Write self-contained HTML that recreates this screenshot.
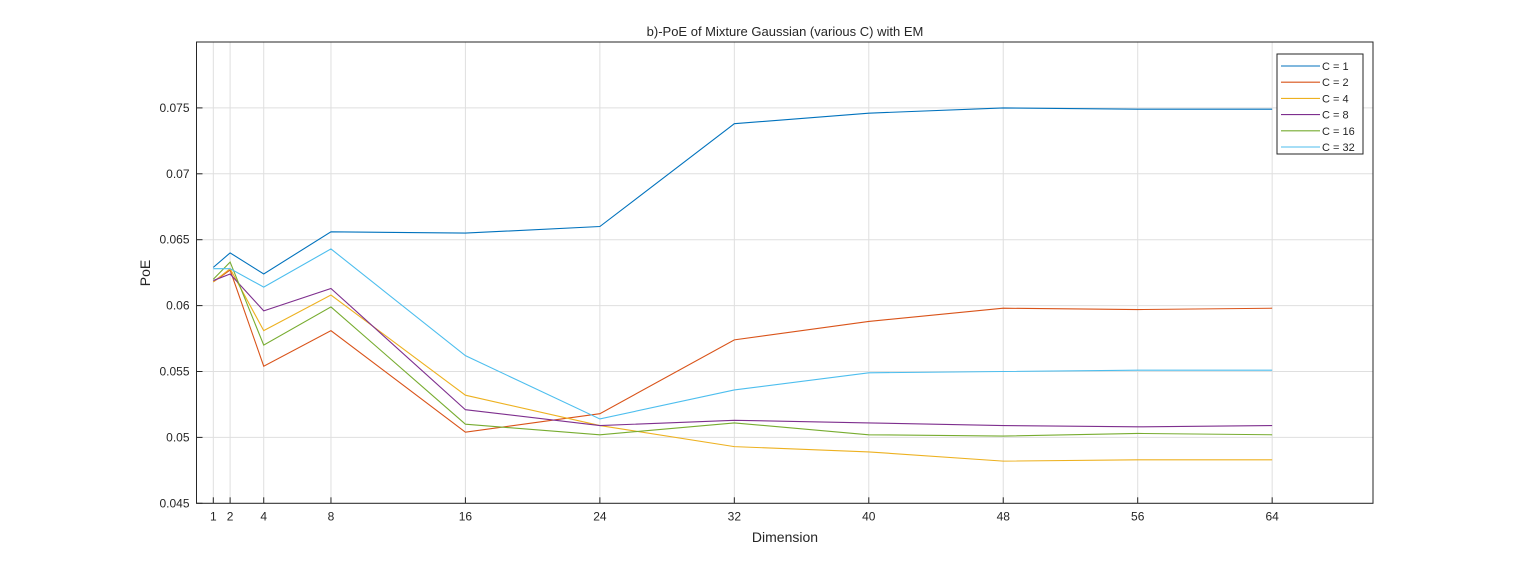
<!DOCTYPE html>
<html><head><meta charset="utf-8"><style>
body{margin:0;background:#fff;}
svg text{font-family:"Liberation Sans",Arial,sans-serif;fill:#262626;}
</style></head><body>
<svg id="chart" width="1518" height="565">
<rect width="1518" height="565" fill="#fff"/>
<g id="grid"></g>
<g id="axes"></g>
<g id="series"></g>
<text x="785" y="36" text-anchor="middle" font-size="13">b)-PoE of Mixture Gaussian (various C) with EM</text>
<text x="785" y="542" text-anchor="middle" font-size="14">Dimension</text>
<text transform="translate(150,273) rotate(-90)" text-anchor="middle" font-size="14">PoE</text>
<g id="legend"></g>
</svg>
<script>
const dims=[1,2,4,8,16,24,32,40,48,56,64];
const xTicks=[1,2,4,8,16,24,32,40,48,56,64];
const yTicks=[0.045,0.05,0.055,0.06,0.065,0.07,0.075];
const yTickLabels=["0.045","0.05","0.055","0.06","0.065","0.07","0.075"];
const seriesNames=["C = 1","C = 2","C = 4","C = 8","C = 16","C = 32"];
const c1=[0.0629,0.0640,0.0624,0.0656,0.0655,0.0660,0.0738,0.0746,0.0750,0.0749,0.0749];
const c2=[0.0618,0.0627,0.0554,0.0581,0.0504,0.0518,0.0574,0.0588,0.0598,0.0597,0.0598];
const c4=[0.0618,0.0628,0.0581,0.0608,0.0532,0.0509,0.0493,0.0489,0.0482,0.0483,0.0483];
const c8=[0.0619,0.0624,0.0596,0.0613,0.0521,0.0509,0.0513,0.0511,0.0509,0.0508,0.0509];
const c16=[0.0620,0.0633,0.0570,0.0599,0.0510,0.0502,0.0511,0.0502,0.0501,0.0503,0.0502];
const c32=[0.0628,0.0628,0.0614,0.0643,0.0562,0.0514,0.0536,0.0549,0.0550,0.0551,0.0551];
const allSeries=[c1,c2,c4,c8,c16,c32];
const colors=["#0072BD","#D95319","#EDB120","#7E2F8E","#77AC30","#4DBEEE"];
const NS="http://www.w3.org/2000/svg";
const L=196.5,R=1373,T=42,B=503.3,xMin=0,xMax=70,yMin=0.045,yMax=0.08;
const X=v=>L+(v-xMin)/(xMax-xMin)*(R-L);
const Y=v=>B-(v-yMin)/(yMax-yMin)*(B-T);
function mk(tag,attrs,parent){const e=document.createElementNS(NS,tag);for(const k in attrs)e.setAttribute(k,attrs[k]);parent.appendChild(e);return e;}
const grid=document.getElementById('grid'),axes=document.getElementById('axes'),ser=document.getElementById('series'),leg=document.getElementById('legend');
xTicks.forEach(t=>{const g=mk('line',{x1:X(t),x2:X(t),y1:T,y2:B,stroke:'#dfdfdf','stroke-width':1},grid);

const tk=mk('line',{x1:X(t),x2:X(t),y1:B,y2:B-6,stroke:'#262626'},axes);

const tx=mk('text',{x:X(t),y:B+17,'text-anchor':'middle','font-size':12},axes);tx.textContent=t;
});
yTicks.forEach((t,i)=>{const g=mk('line',{x1:L,x2:R,y1:Y(t),y2:Y(t),stroke:'#dfdfdf','stroke-width':1},grid);

const tk=mk('line',{x1:L,x2:L+6,y1:Y(t),y2:Y(t),stroke:'#262626'},axes);

const tx=mk('text',{x:L-7,y:Y(t)+4,'text-anchor':'end','font-size':12},axes);tx.textContent=yTickLabels[i];
});
const box=mk('rect',{x:L,y:T,width:R-L,height:B-T,fill:'none',stroke:'#262626','stroke-width':1},axes);

allSeries.forEach((s,i)=>{const p=mk('polyline',{points:s.map((v,j)=>X(dims[j])+','+Y(v)).join(' '),fill:'none',stroke:colors[i],'stroke-width':1.1},ser);
});
const lb=mk('rect',{x:1277,y:54,width:86,height:100,fill:'#fff',stroke:'#262626','stroke-width':1},leg);

seriesNames.forEach((n,i)=>{const y=66+i*16.2;
const l=mk('line',{x1:1281,x2:1320,y1:y,y2:y,stroke:colors[i],'stroke-width':1.1},leg);

const t=mk('text',{x:1322,y:y+4,'font-size':11},leg);t.textContent=n;
});
</script>
</body></html>
